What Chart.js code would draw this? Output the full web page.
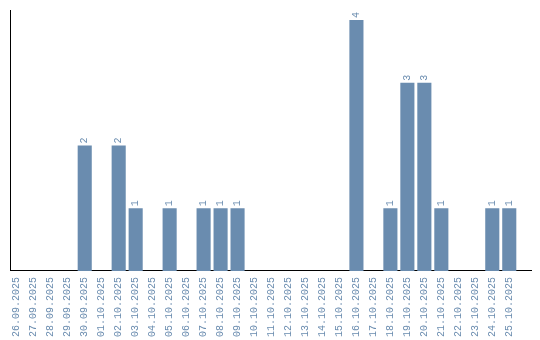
<!DOCTYPE html>
<html>
<head>
<meta charset="utf-8">
<script src="https://cdn.jsdelivr.net/npm/chart.js@4/dist/chart.umd.min.js"></script>
<style>
	html, body { margin: 0; padding: 0; background: #fff; }
	#wrap { width: 540px; height: 340px; }
</style>
</head>
<body>
<div id="wrap"><canvas id="days-chart"></canvas></div>
<script>
let dayLabels = ["26.09.2025", "27.09.2025", "28.09.2025", "29.09.2025", "30.09.2025",
	"01.10.2025", "02.10.2025", "03.10.2025", "04.10.2025", "05.10.2025",
	"06.10.2025", "07.10.2025", "08.10.2025", "09.10.2025", "10.10.2025",
	"11.10.2025", "12.10.2025", "13.10.2025", "14.10.2025", "15.10.2025",
	"16.10.2025", "17.10.2025", "18.10.2025", "19.10.2025", "20.10.2025",
	"21.10.2025", "22.10.2025", "23.10.2025", "24.10.2025", "25.10.2025"]
let dayCounts = [0, 0, 0, 0, 2, 0, 2, 1, 0, 1, 0, 1, 1, 1, 0, 0, 0, 0, 0, 0, 4, 0, 1, 3, 3, 1, 0, 0, 1, 1]

const blue = "#6a8caf"
const monoFont = "'Liberation Mono', monospace"
Chart.defaults.font.family = monoFont
Chart.defaults.font.size = 10

// value above each bar, rotated like the tick labels
const barValues = {
	id: 'barValues',
	afterDatasetsDraw(chart) {
		const ctx = chart.ctx
		const meta = chart.getDatasetMeta(0)
		ctx.save()
		ctx.fillStyle = blue
		ctx.font = "10px " + monoFont
		ctx.textAlign = 'left'
		ctx.textBaseline = 'middle'
		meta.data.forEach(function (bar, i) {
			if (!dayCounts[i]) return
			ctx.save()
			ctx.translate(bar.x, bar.y - 2)
			ctx.rotate(-Math.PI / 2)
			ctx.fillText(String(dayCounts[i]), 0, 0)
			ctx.restore()
		})
		ctx.restore()
	}
}

let daysChart = new Chart(document.getElementById("days-chart").getContext('2d'), {
	type: 'bar',
	data: {
		datasets: [
			{
				label: 'Count',
				data: dayCounts.map(function (v, i) { return { x: i, y: v } }),
				backgroundColor: blue,
				borderWidth: 0,
				categoryPercentage: 1,
				barPercentage: .83
			}
		]
	},
	options: {
		responsive: true,
		maintainAspectRatio: false,
		animation: false,
		layout: {
			padding: { left: 10, top: 10, right: 9, bottom: -3 }
		},
		scales: {
			x: {
				type: 'linear',
				offset: false,
				min: -0.4,
				max: 30.28,
				afterBuildTicks: function (scale) {
					scale.ticks = dayLabels.map(function (l, i) { return { value: i } })
				},
				ticks: {
					autoSkip: false,
					maxRotation: 90,
					minRotation: 90,
					padding: 6,
					color: blue,
					callback: function (v) { return dayLabels[v] }
				},
				grid: { display: false, drawTicks: false, offset: false },
				border: { display: true, color: '#000', width: 1 }
			},
			y: {
				min: 0,
				max: 4.16,
				ticks: { display: false },
				grid: { display: false, drawTicks: false },
				border: { display: true, color: '#000', width: 1 }
			}
		},
		plugins: {
			legend: { display: false },
			tooltip: { enabled: false }
		}
	},
	plugins: [barValues]
});
</script>
</body>
</html>
